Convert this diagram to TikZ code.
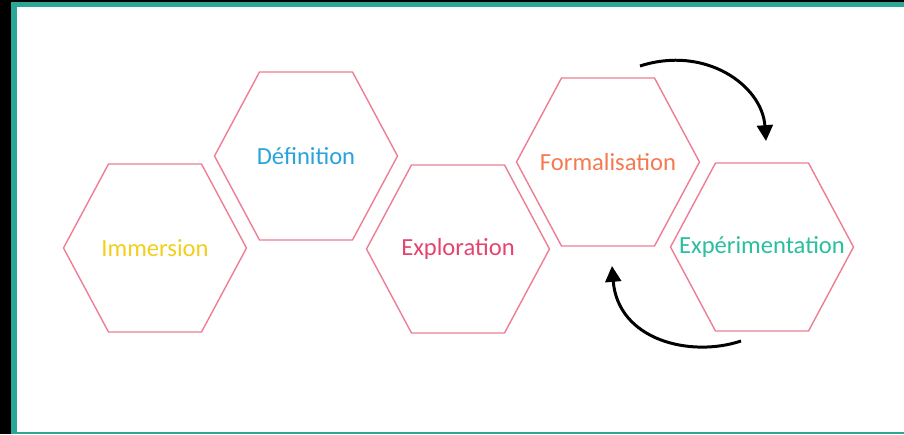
\documentclass[tikz,border=0pt]{standalone}
\usepackage{fontspec}
\setmainfont{Carlito}
\usetikzlibrary{arrows.meta}
\definecolor{frameTeal}{HTML}{2BA797}
\definecolor{hexPink}{HTML}{EC7E95}
\definecolor{colImm}{HTML}{F3CF1C}
\definecolor{colDef}{HTML}{29A4DB}
\definecolor{colExplo}{HTML}{E4456F}
\definecolor{colForm}{HTML}{F47A50}
\definecolor{colExp}{HTML}{2ABF9F}

\begin{document}
\begin{tikzpicture}[x=0.02cm,y=-0.02cm,
                    hexND/.style={inner sep=0pt,
                                  font=\fontsize{14}{16}\selectfont},
                    hexLine/.style={draw=hexPink,
                                    line width=0.8pt,
                                    line join=round},
                    loopArrow/.style={line width=1.7pt,
                                      -{Triangle[length=9pt,width=9pt]}}]
    % frame
    \fill[black] (0,0) rectangle (904,434);
    \fill[frameTeal] (11,2) rectangle (904,434);
    \fill[white] (17,7) rectangle (904,432);
    \useasboundingbox (0,0) rectangle (904,434);
    % hexagons
    \node[hexND, text=colImm]   (imm)   at (155,248) {Immersion};
    \node[hexND, text=colDef]   (def)   at (306,156) {Définition};
    \node[hexND, text=colExplo] (explo) at (458,249) {Exploration};
    \node[hexND, text=colForm]  (form)  at (608,162) {Formalisation};
    \node[hexND, text=colExp]   (exper) at (762,247) {Expérimentation};
    \foreach \n in {imm,def,explo,form,exper}
        \draw[hexLine] ([shift={(-91.5,0)}]\n.center)
            -- ([shift={(-46.5,-84)}]\n.center)
            -- ([shift={(46.5,-84)}]\n.center)
            -- ([shift={(91.5,0)}]\n.center)
            -- ([shift={(46.5,84)}]\n.center)
            -- ([shift={(-46.5,84)}]\n.center)
            -- cycle;
    % loop arrows
    \coordinate (topA) at (640,66);
    \coordinate (topB) at (766,141);
    \coordinate (botA) at (741,341);
    \coordinate (botB) at (612,266);
    \draw[loopArrow] (topA) .. controls (705,45) and (762,85) .. (topB);
    \draw[loopArrow] (botA) .. controls (690,358) and (618,340) .. (botB);
\end{tikzpicture}
\end{document}
